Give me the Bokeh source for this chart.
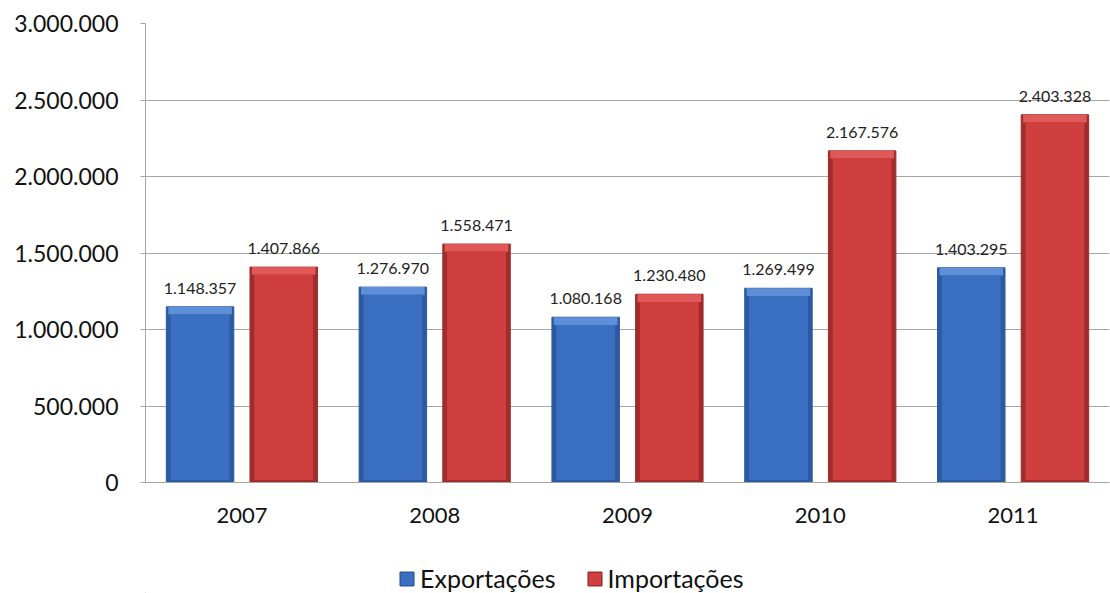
from bokeh.plotting import figure
from bokeh.layouts import column
from bokeh.models import ColumnDataSource, FactorRange, CustomJSTickFormatter, Legend, LegendItem, FixedTicker
from bokeh.transform import dodge
from bokeh.core.properties import value
from bokeh.embed import file_html
from bokeh.resources import INLINE

years = ["2007", "2008", "2009", "2010", "2011"]
exportacoes = [1148357, 1276970, 1080168, 1269499, 1403295]
importacoes = [1407866, 1558471, 1230480, 2167576, 2403328]
y_ticks = [0, 500000, 1000000, 1500000, 2000000, 2500000, 3000000]
series_names = ["Exportações", "Importações"]

def fmt(v):
    return f"{v:,}".replace(",", ".")

BEV = 50000
src = ColumnDataSource(dict(
    years=years,
    exp=exportacoes, imp=importacoes,
    exp_in=[v - BEV for v in exportacoes], imp_in=[v - BEV for v in importacoes],
    exp_lbl=[fmt(v) for v in exportacoes], imp_lbl=[fmt(v) for v in importacoes],
))

FONT = "Lato"
p = figure(x_range=FactorRange(factors=years, range_padding=0), y_range=(0, 3000000),
           width=1110, height=540, output_backend="svg", toolbar_location=None,
           min_border_left=145, min_border_right=1, min_border_top=23, min_border_bottom=58)
p.outline_line_color = None
p.xgrid.grid_line_color = None
p.ygrid.grid_line_color = "#a6a6a6"
p.ygrid.grid_line_width = 1

BW = 0.35
OFF = 0.217
series = [
    ("exp", "exp_in", "exp_lbl", -OFF, "#2c5aa0", "#5f8fd8", "#3a6fc2"),
    ("imp", "imp_in", "imp_lbl", OFF, "#a12c2c", "#e05858", "#cf3f3f"),
]
for col, col_in, lbl, off, dark, light, main in series:
    x = dodge("years", off, range=p.x_range)
    p.vbar(x=x, top=col, bottom=0, width=BW, fill_color=dark, line_color=dark, line_width=1, source=src)
    p.vbar(x=x, top=col, bottom=col_in, width=BW - 0.02, fill_color=light, line_color=None, source=src)
    p.vbar(x=x, top=col_in, bottom=BEV / 3, width=BW - 0.045, fill_color=main, line_color=None, source=src)
    p.text(x=x, y=col, text=lbl, text_align="center", text_baseline="bottom", y_offset=-13,
           text_font=value(FONT), text_font_size="16px", text_color="#222222", source=src)

p.yaxis.ticker = FixedTicker(ticks=y_ticks)
p.yaxis.formatter = CustomJSTickFormatter(code="""
return tick.toFixed(0).replace(/\\B(?=(\\d{3})+(?!\\d))/g, ".");
""")
for ax in (p.xaxis, p.yaxis):
    ax.axis_line_color = "#a6a6a6"
    ax.major_tick_line_color = "#a6a6a6"
    ax.minor_tick_line_color = None
    ax.major_label_text_font = FONT
    ax.major_label_text_color = "#111111"
p.yaxis.major_label_text_font_size = "23px"
p.xaxis.major_label_text_font_size = "22px"
p.yaxis.major_tick_out = 5
p.yaxis.major_tick_in = 0
p.yaxis.major_label_standoff = 22
p.xaxis.major_tick_line_color = None
p.xaxis.major_label_standoff = 19

# legend strip
lg = figure(width=1110, height=53, output_backend="svg", toolbar_location=None,
            x_range=(0, 1), y_range=(0, 1), min_border=0)
lg.axis.visible = False
lg.grid.visible = False
lg.outline_line_color = None
dummy = ColumnDataSource(dict(x=[-5], top=[-5]))
items = []
for (col, col_in, lbl, off, dark, light, main), name in zip(series, series_names):
    r = lg.vbar(x="x", top="top", width=0.1, fill_color=main, line_color=dark, line_width=1.5, source=dummy)
    items.append(LegendItem(label=name, renderers=[r]))
legend = Legend(items=items, orientation="horizontal", location=(253, 0),
                label_text_font=FONT, label_text_font_size="25px", label_text_color="#111111",
                glyph_width=17, glyph_height=17, spacing=30, label_standoff=5,
                border_line_color=None, background_fill_alpha=0, margin=0, padding=0)
lg.add_layout(legend, "center")

layout = column(p, lg, spacing=0)
open("out.html", "w").write(file_html(layout, INLINE))
